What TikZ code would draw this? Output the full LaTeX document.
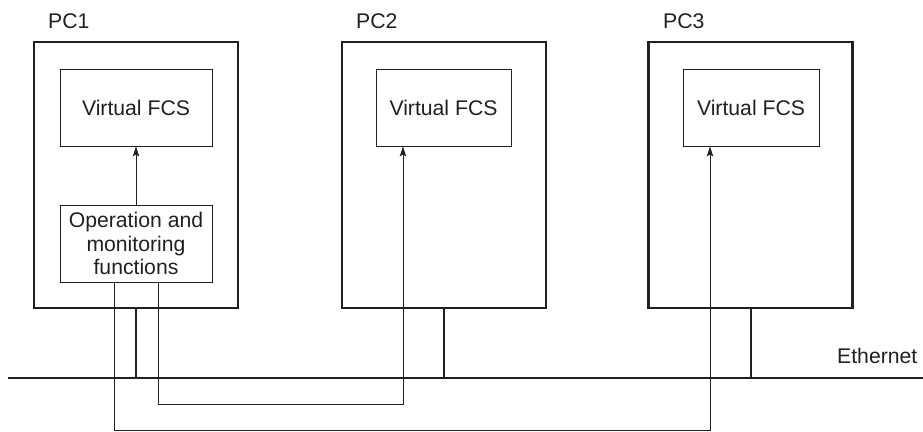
\documentclass[tikz,border=0pt]{standalone}
\usepackage{fontspec}
\setmainfont{Liberation Sans}
\usetikzlibrary{arrows.meta}
\definecolor{ink}{HTML}{231F20}
\begin{document}
\begin{tikzpicture}[x=1pt,y=-1pt,
  every node/.style={font=\fontsize{21.2}{23.3}\selectfont, text=ink},
  pcbox/.style={draw=ink, line width=2.6pt, minimum width=204pt, minimum height=266pt, inner sep=0pt},
  inbox/.style={draw=ink, line width=0.9pt, minimum height=77pt, inner sep=0pt, align=center},
  bus/.style={draw=ink, line width=2.4pt},
  conn/.style={draw=ink, line width=0.9pt},
  arr/.style={-{Stealth[length=10pt,width=6.5pt,inset=2pt]}},
  lbl/.style={anchor=base west, inner sep=0pt}
]
\useasboundingbox (0,0) rectangle (923,431);

% PC boxes
\node[pcbox] (pc1) at (136,175) {};
\node[pcbox] (pc2) at (443.8,175) {};
\node[pcbox] (pc3) at (750.7,175) {};

% labels
\node[lbl] (l1) at (48,28.5) {PC1};
\node[lbl] (l2) at (356,28.5) {PC2};
\node[lbl] (l3) at (663,28.5) {PC3};
\node[lbl] (leth) at (837,363) {Ethernet};

% inner boxes
\node[inbox, minimum width=152pt] (vf1) at (136,107.5) {Virtual FCS};
\node[inbox, minimum width=135pt] (vf2) at (443.5,107.5) {Virtual FCS};
\node[inbox, minimum width=136pt] (vf3) at (751,107.5) {Virtual FCS};
\node[inbox, minimum width=152pt] (op) at (136,243.5) {Operation and\\monitoring\\functions};

% Ethernet bus
\coordinate (eL) at (8,378);
\coordinate (eR) at (923,378);
\draw[bus] (eL) -- (eR);
\draw[bus] (pc1.south) -- (pc1.south |- eL);
\draw[bus] (pc2.south) -- (pc2.south |- eL);
\draw[bus] (pc3.south) -- (pc3.south |- eL);

% connectors
\draw[conn, arr] (op.north) -- (vf1.south);

\coordinate (r2) at (0,404);
\coordinate (r3) at (0,430);
\coordinate (o2) at ([xshift=22pt]op.south);
\coordinate (o3) at ([xshift=-22pt]op.south);
\coordinate (v2) at ([xshift=-40.5pt]vf2.south);
\coordinate (v3) at ([xshift=-41pt]vf3.south);

\draw[conn, arr] (o2) -- (o2 |- r2) -- (v2 |- r2) -- (v2);
\draw[conn, arr] (o3) -- (o3 |- r3) -- (v3 |- r3) -- (v3);
\end{tikzpicture}
\end{document}
